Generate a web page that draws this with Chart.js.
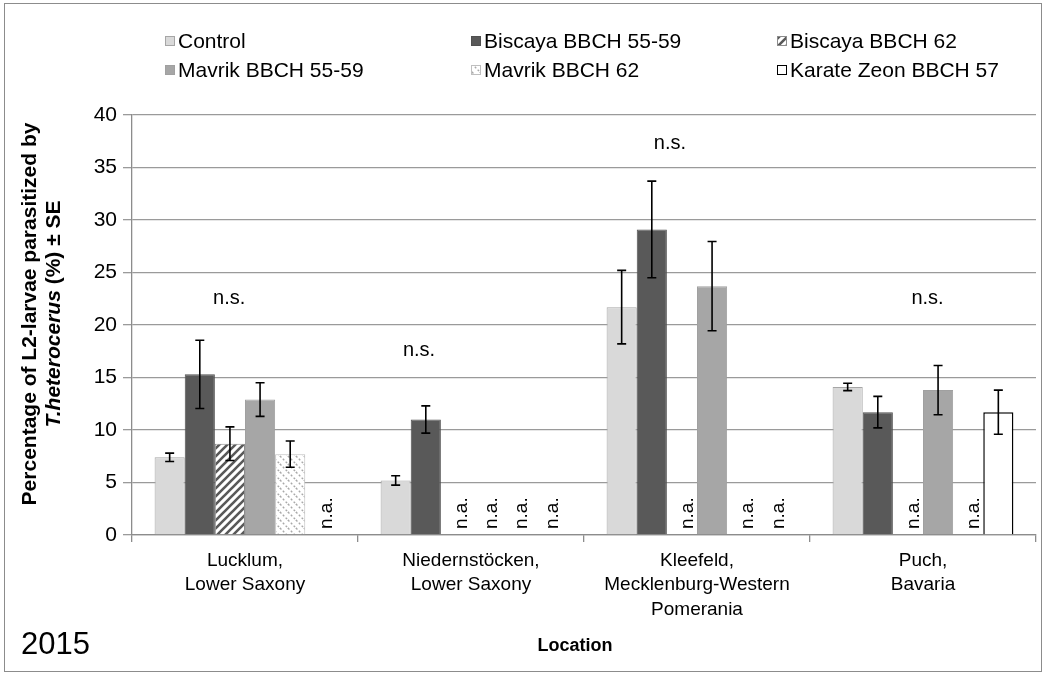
<!DOCTYPE html>
<html lang="en">
<head>
<meta charset="utf-8">
<style>
  body { margin: 0; background: #fff; }
  #wrap { width: 1046px; height: 677px; }
</style>
</head>
<body>
<div id="wrap"><canvas id="myChart" width="1046" height="677"></canvas></div>

<script src="https://cdn.jsdelivr.net/npm/chart.js@4.4.1/dist/chart.umd.min.js"></script>
<script>
// ---- data ----
var categories = [
    ['Lucklum,', 'Lower Saxony'],
    ['Niedernstöcken,', 'Lower Saxony'],
    ['Kleefeld,', 'Mecklenburg-Western', 'Pomerania'],
    ['Puch,', 'Bavaria']
];
var seriesNames = ['Control', 'Biscaya BBCH 55-59', 'Biscaya BBCH 62',
                   'Mavrik BBCH 55-59', 'Mavrik BBCH 62', 'Karate Zeon BBCH 57'];

var control      = [7.4, 5.2, 21.7, 14.1];
var controlSE    = [0.4, 0.45, 3.5, 0.35];
var biscaya5559  = [15.3, 11.0, 29.1, 11.7];
var biscaya5559SE = [3.25, 1.3, 4.6, 1.5];
var biscaya62    = [8.7, null, null, null];
var biscaya62SE  = [1.6, null, null, null];
var mavrik5559   = [12.9, null, 23.7, 13.8];
var mavrik5559SE = [1.6, null, 4.25, 2.35];
var mavrik62     = [7.7, null, null, null];
var mavrik62SE   = [1.25, null, null, null];
var karate       = [null, null, null, 11.7];
var karateSE     = [null, null, null, 2.1];

var yTicks = [0, 5, 10, 15, 20, 25, 30, 35, 40];

// "n.s." annotations: category, height (in % units), sideways shift (in category widths)
var nsCategory = [0, 1, 2, 3];
var nsValue    = [22.5, 17.6, 37.3, 22.5];
var nsShift    = [-0.07, -0.23, -0.12, 0.02];

var FONT = "'Liberation Sans', Arial, sans-serif";

function stripePattern(color, width, dashed) {
    var c = document.createElement('canvas');
    c.width = 8; c.height = 8;
    var g = c.getContext('2d');
    g.fillStyle = '#fff';
    g.fillRect(0, 0, 8, 8);
    g.strokeStyle = color;
    g.lineWidth = width;
    if (dashed) {
        g.setLineDash([2, 2]);
        g.beginPath();
        g.moveTo(0, 0); g.lineTo(8, 8);
        g.moveTo(-4, 4); g.lineTo(4, 12);
        g.moveTo(4, -4); g.lineTo(12, 4);
        g.stroke();
    } else {
        g.beginPath();
        g.moveTo(0, 8); g.lineTo(8, 0);
        g.moveTo(-4, 4); g.lineTo(4, -4);
        g.moveTo(4, 12); g.lineTo(12, 4);
        g.stroke();
    }
    return g.createPattern(c, 'repeat');
}

var fills = ['#d9d9d9', '#595959', stripePattern('#595959', 2.6, false),
             '#a6a6a6', stripePattern('#a8a8a8', 1.4, true), '#ffffff'];
var borders = ['#a6a6a6', '#505050', '#8c8c8c', '#a0a0a0', '#bfbfbf', '#000000'];
var borderWidths = [1, 1, 1, 1, 1, 1.5];
var values = [control, biscaya5559, biscaya62, mavrik5559, mavrik62, karate];
var errors = [controlSE, biscaya5559SE, biscaya62SE, mavrik5559SE, mavrik62SE, karateSE];

var datasets = [];
for (var i = 0; i < seriesNames.length; i++) {
    datasets.push({
        label: seriesNames[i],
        data: values[i],
        backgroundColor: fills[i],
        borderColor: borders[i],
        borderWidth: borderWidths[i],
        se: errors[i]
    });
}

var extras = {
    id: 'extras',
    beforeDraw: function (chart) {
        var ctx = chart.ctx;
        ctx.save();
        ctx.fillStyle = '#fff';
        ctx.fillRect(0, 0, chart.width, chart.height);
        ctx.strokeStyle = '#8c8c8c';
        ctx.lineWidth = 1;
        ctx.strokeRect(4.5, 3.5, 1037, 668);
        ctx.restore();
    },
    afterDatasetsDraw: function (chart) {
        var ctx = chart.ctx;
        var xs = chart.scales.x, ys = chart.scales.y;
        ctx.save();
        chart.data.datasets.forEach(function (ds, di) {
            var meta = chart.getDatasetMeta(di);
            ds.data.forEach(function (v, j) {
                var el = meta.data[j];
                var catW = xs.getPixelForValue(1) - xs.getPixelForValue(0);
                var bw = catW * 0.8 / 6;
                var x = (el && isFinite(el.x)) ? el.x : xs.getPixelForValue(j) + (di - 2.5) * bw;
                if (v === null) {
                    // n.a. label, rotated
                    ctx.save();
                    ctx.translate(x + 6, ys.getPixelForValue(0) - 6);
                    ctx.rotate(-Math.PI / 2);
                    ctx.fillStyle = '#000';
                    ctx.font = '19px ' + FONT;
                    ctx.textAlign = 'left';
                    ctx.textBaseline = 'middle';
                    ctx.fillText('n.a.', 0, 0);
                    ctx.restore();
                    return;
                }
                var se = ds.se[j];
                var yt = ys.getPixelForValue(v + se), yb = ys.getPixelForValue(v - se);
                ctx.strokeStyle = '#000';
                ctx.lineWidth = 1.6;
                ctx.beginPath();
                ctx.moveTo(x, yt); ctx.lineTo(x, yb);
                ctx.moveTo(x - 4.5, yt); ctx.lineTo(x + 4.5, yt);
                ctx.moveTo(x - 4.5, yb); ctx.lineTo(x + 4.5, yb);
                ctx.stroke();
            });
        });

        // n.s.
        ctx.fillStyle = '#000';
        ctx.font = '20px ' + FONT;
        ctx.textAlign = 'center';
        ctx.textBaseline = 'middle';
        var cw = xs.getPixelForValue(1) - xs.getPixelForValue(0);
        for (var k = 0; k < nsCategory.length; k++) {
            ctx.fillText('n.s.', xs.getPixelForValue(nsCategory[k]) + nsShift[k] * cw, ys.getPixelForValue(nsValue[k]));
        }

        // legend, 3 columns x 2 rows
        var colX = [165, 471, 777], rowY = [41, 70];
        ctx.font = '21px ' + FONT;
        ctx.textAlign = 'left';
        for (var n = 0; n < seriesNames.length; n++) {
            var lx = colX[n % 3], ly = rowY[Math.floor(n / 3)];
            ctx.fillStyle = fills[n];
            ctx.fillRect(lx, ly - 5, 10, 10);
            ctx.strokeStyle = borders[n];
            ctx.lineWidth = 1;
            ctx.strokeRect(lx + 0.5, ly - 4.5, 9, 9);
            ctx.fillStyle = '#000';
            ctx.fillText(seriesNames[n], lx + 13, ly + 1);
        }

        // y axis title (two lines, second partly italic)
        var cy = 314;
        ctx.save();
        ctx.translate(30, cy);
        ctx.rotate(-Math.PI / 2);
        ctx.font = 'bold 21px ' + FONT;
        ctx.textAlign = 'center';
        ctx.fillText('Percentage of L2-larvae parasitized by', 0, 0);
        ctx.restore();

        ctx.save();
        ctx.translate(54, cy);
        ctx.rotate(-Math.PI / 2);
        var partA = 'T.heterocerus', partB = ' (%) ± SE';
        ctx.font = 'italic bold 21px ' + FONT;
        var wA = ctx.measureText(partA).width;
        ctx.font = 'bold 21px ' + FONT;
        var wB = ctx.measureText(partB).width;
        var start = -(wA + wB) / 2;
        ctx.textAlign = 'left';
        ctx.font = 'italic bold 21px ' + FONT;
        ctx.fillText(partA, start, 0);
        ctx.font = 'bold 21px ' + FONT;
        ctx.fillText(partB, start + wA, 0);
        ctx.restore();

        // x axis title and year
        ctx.textAlign = 'center';
        ctx.font = 'bold 18px ' + FONT;
        ctx.fillText('Location', 575, 646);
        ctx.textAlign = 'left';
        ctx.font = '31px ' + FONT;
        ctx.fillText('2015', 21, 645);
        ctx.restore();
    }
};

var ctx = document.getElementById('myChart').getContext('2d');
var chart = new Chart(ctx, {
    type: 'bar',
    data: { labels: categories, datasets: datasets },
    options: {
        responsive: false,
        animation: false,
        layout: { padding: { top: 115, right: 10, bottom: 0, left: 0 } },
        datasets: { bar: { barPercentage: 1, categoryPercentage: 0.8 } },
        plugins: { legend: { display: false }, tooltip: { enabled: false } },
        scales: {
            x: {
                afterFit: function (s) { s.height = 677 - 535; },
                grid: { drawOnChartArea: false, offset: true, tickLength: 7, color: '#8c8c8c', lineWidth: 1.3 },
                border: { color: '#8c8c8c', width: 1.3 },
                ticks: { color: '#000', font: { family: FONT, size: 19, lineHeight: 1.27 }, padding: 7, maxRotation: 0, autoSkip: false }
            },
            y: {
                min: 0, max: 40,
                afterFit: function (s) { s.width = 132; },
                afterBuildTicks: function (s) { s.ticks = yTicks.map(function (v) { return { value: v }; }); },
                grid: { color: '#9a9a9a', lineWidth: 1.3, tickLength: 9 },
                border: { color: '#8c8c8c', width: 1.3 },
                ticks: { color: '#000', font: { family: FONT, size: 21 }, padding: 6 }
            }
        }
    },
    plugins: [extras]
});
</script>
</body>
</html>
